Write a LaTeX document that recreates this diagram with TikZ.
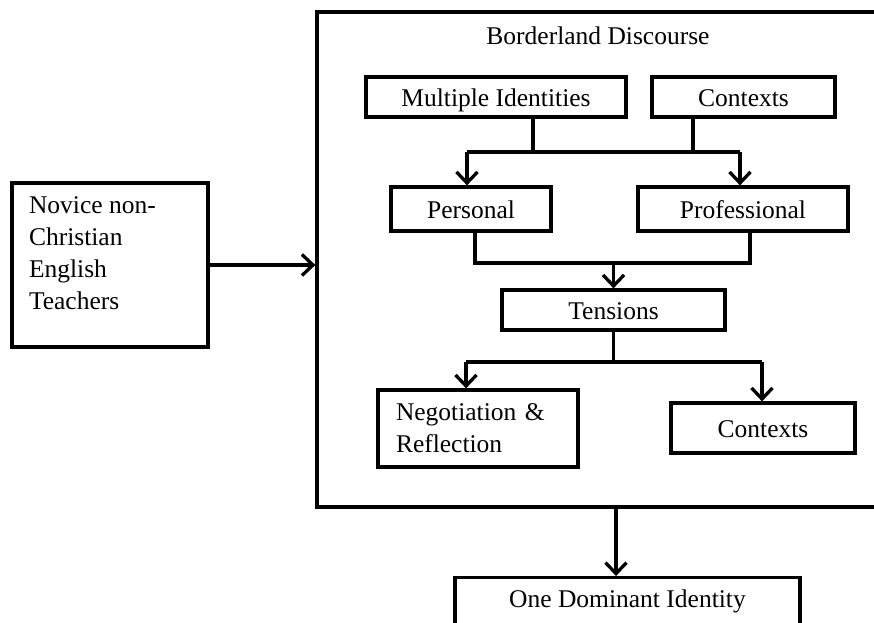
\documentclass[tikz,border=0pt]{standalone}
\usepackage{fontspec}
\setmainfont{Liberation Serif}
\usetikzlibrary{arrows.meta}
\begin{document}
\begin{tikzpicture}[x=1pt,y=-1pt,
  box/.style={draw=black, line width=3.3pt, rectangle, inner sep=0pt, font=\fontsize{25.5}{32}\selectfont},
  one line/.style={text height=20pt, text depth=2pt},
  line/.style={line width=3.3pt, line join=miter},
  arr/.style={line width=3.3pt, -{Straight Barb[length=11pt,width=21pt]}}
]
\useasboundingbox (0,0) rectangle (874,622);
\clip (0,0) rectangle (874,622);
\fill[white] (0,0) rectangle (874,622);

% boxes
\node[box, minimum width=196pt, minimum height=164pt] (novice) at (110,265)
  {\parbox[c][164pt][t]{162pt}{\raggedright\rule{0pt}{30pt}Novice non-\\Christian\\English\\Teachers\par}};
\node[box, minimum width=573pt, minimum height=495pt] (bd) at (603.5,259.5) {};
\node[font=\fontsize{25.5}{32}\selectfont, one line] (bdtitle) at (598,35) {Borderland Discourse};
\node[box, one line, minimum width=260pt, minimum height=40pt] (mult) at (496,97) {Multiple Identities};
\node[box, one line, minimum width=183pt, minimum height=40pt] (ctxa) at (743.5,97) {Contexts};
\node[box, one line, minimum width=160pt, minimum height=44pt] (pers) at (471,209) {Personal};
\node[box, one line, minimum width=210pt, minimum height=44pt] (prof) at (743,209) {Professional};
\node[box, one line, minimum width=223pt, minimum height=40pt] (tens) at (613.5,310) {Tensions};
\node[box, minimum width=200pt, minimum height=77pt, text width=164pt, inner xsep=18pt, align=left] (nego) at (478,428.5)
  {Negotiation \&\\Reflection};
\node[box, one line, minimum width=184pt, minimum height=50pt] (ctxb) at (763,428) {Contexts};
\node[box, minimum width=345pt, minimum height=90pt, anchor=north] (one) at (627.5,576)
  {\parbox[c][90pt][t]{330pt}{\centering\rule{0pt}{30pt}One Dominant Identity\par}};

% connectors
\draw[arr] (novice.east) -- (novice.east -| bd.west);

\coordinate (b1) at (533,152);
\coordinate (b2) at (693,152);
\coordinate (b3) at (467,152);
\coordinate (b4) at (740,152);
\draw[line] (b1 |- mult.south) -- (b1);
\draw[line] (b2 |- ctxa.south) -- (b2);
\draw[line] (b3) -- (b4);
\draw[arr] (b3) -- (b3 |- pers.north);
\draw[arr] (b4) -- (b4 |- prof.north);

\coordinate (c1) at (475,263);
\coordinate (c2) at (750,263);
\draw[line] (c1 |- pers.south) -- (c1) -- (c2) -- (c2 |- prof.south);
\draw[arr] (tens.north |- c1) -- (tens.north);

\coordinate (d1) at (466,362);
\coordinate (d2) at (762,362);
\draw[line] (tens.south) -- (tens.south |- d1);
\draw[line] (d1) -- (d2);
\draw[arr] (d1) -- (d1 |- nego.north);
\draw[arr] (d2) -- (d2 |- ctxb.north);

\coordinate (e) at (616,507);
\draw[arr] (e |- bd.south) -- (e |- one.north);
\end{tikzpicture}
\end{document}
